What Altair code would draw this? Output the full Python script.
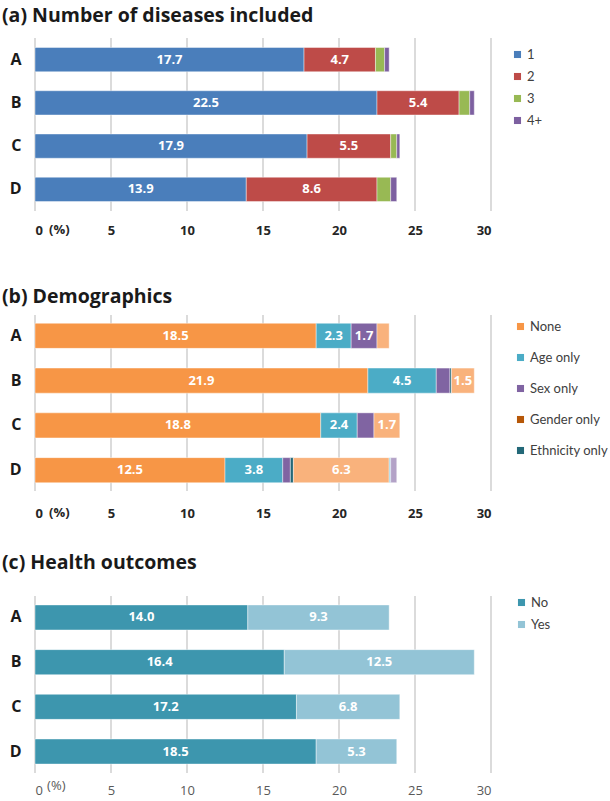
import altair as alt
import pandas as pd

groups = ["A", "B", "C", "D"]

# (a) Number of diseases included
a_cats = ["1", "2", "3", "4+"]
a_1 = [17.7, 22.5, 17.9, 13.9]
a_2 = [4.7, 5.4, 5.5, 8.6]
a_3 = [0.6, 0.7, 0.4, 0.9]
a_4 = [0.3, 0.3, 0.2, 0.4]
a_colors = ["#4A7EBB", "#BE4B48", "#98B954", "#7D60A0"]

# (b) Demographics (last three series are not shown in the cropped legend)
b_cats = ["None", "Age only", "Sex only", "Gender only", "Ethnicity only",
          "Two or more", "Unclear", "Other"]
b_none = [18.5, 21.9, 18.8, 12.5]
b_age = [2.3, 4.5, 2.4, 3.8]
b_sex = [1.7, 0.9, 1.1, 0.5]
b_gender = [0.0, 0.0, 0.0, 0.0]
b_eth = [0.0, 0.1, 0.0, 0.2]
b_two = [0.8, 1.5, 1.7, 6.3]
b_unclear = [0.0, 0.0, 0.0, 0.1]
b_other = [0.0, 0.0, 0.0, 0.4]
b_colors = ["#F79646", "#4BACC6", "#8064A2", "#B65708", "#236878",
            "#F9B27C", "#93CDDD", "#B3A2C7"]
b_legend = ["None", "Age only", "Sex only", "Gender only", "Ethnicity only"]

# (c) Health outcomes
c_cats = ["No", "Yes"]
c_no = [14.0, 16.4, 17.2, 18.5]
c_yes = [9.3, 12.5, 6.8, 5.3]
c_colors = ["#3D96AE", "#93C4D6"]

x_ticks = [0, 5, 10, 15, 20, 25, 30]

TITLE_FONT = "Open Sans"
FONT = "Open Sans"
LEG_FONT = "Lato"


def build_df(cats, series):
    rows = []
    for gi, g in enumerate(groups):
        start = 0.0
        for ci, c in enumerate(cats):
            v = series[ci][gi]
            rows.append(dict(group=g, cat=c, order=ci, value=v, start=start,
                             end=start + v, mid=start + v / 2,
                             label=(f"{v:.1f}" if v >= 1.5 else "")))
            start += v
    return pd.DataFrame(rows)


def panel(df, cats, colors, title, height, title_offset, legend_vals,
          leg_x, leg_y, leg_font, leg_rowpad, pad_outer, axis_bold=True,
          label_pad=13, pct_x=1.6, pct_dy=19):
    ycommon = dict(sort=groups,
                   scale=alt.Scale(paddingInner=0.44, paddingOuter=pad_outer))
    xaxis = alt.Axis(values=x_ticks, grid=False, domain=False, ticks=False,
                     labelFont=FONT, labelFontSize=13,
                     labelFontWeight="bold" if axis_bold else "normal",
                     labelColor="#262626" if axis_bold else "#595959",
                     labelPadding=label_pad, title=None)
    yaxis = alt.Axis(domain=False, ticks=False, grid=False, labelFont=FONT,
                     labelFontSize=16, labelFontWeight="bold",
                     labelColor="#1A1A1A", labelPadding=14, title=None,
                     minExtent=27, maxExtent=27)
    xscale = alt.Scale(domain=[0, 30], nice=False)
    grid = alt.Chart(pd.DataFrame({"t": x_ticks})).mark_rule(
        color="#CFCFCF", strokeWidth=1.5
    ).encode(x=alt.X("t:Q", scale=xscale, axis=None))
    bars = alt.Chart(df[df.value > 0]).mark_bar(
        stroke="white", strokeWidth=0.6, strokeOpacity=0.7
    ).encode(
        x=alt.X("start:Q", scale=xscale, axis=xaxis),
        x2="end:Q",
        y=alt.Y("group:N", axis=yaxis, **ycommon),
        color=alt.Color("cat:N", scale=alt.Scale(domain=cats, range=colors),
                        legend=alt.Legend(
                            orient="none", legendX=leg_x, legendY=leg_y,
                            values=legend_vals, title=None,
                            symbolType="square", symbolSize=50,
                            symbolStrokeWidth=0, labelFont=LEG_FONT,
                            labelFontSize=leg_font, labelColor="#404040",
                            rowPadding=leg_rowpad, labelOffset=3,
                            padding=0, labelLimit=95)),
        tooltip=["group:N", "cat:N", "value:Q"],
    )
    text = alt.Chart(df[df.label != ""]).mark_text(
        color="white", fontWeight="bold", fontSize=13, font=FONT
    ).encode(
        x=alt.X("mid:Q", scale=xscale, axis=None),
        y=alt.Y("group:N", axis=None, **ycommon),
        text="label:N",
    )
    pct = alt.Chart(pd.DataFrame({"x": [pct_x], "t": ["(%)"]})).mark_text(
        fontSize=13, font=FONT,
        fontWeight="bold" if axis_bold else "normal",
        color="#262626" if axis_bold else "#595959"
    ).encode(
        x=alt.X("x:Q", scale=xscale, axis=None),
        y=alt.value(height + pct_dy),
        text="t:N",
    )
    return alt.layer(grid, bars, text, pct).resolve_axis(
        x="independent", y="independent"
    ).properties(
        width=456, height=height,
        title=alt.TitleParams(title, anchor="start", frame="group", dx=-33,
                              font=TITLE_FONT, fontSize=19.5,
                              fontWeight="bold", color="#1A1A1A",
                              offset=title_offset),
    )


df_a = build_df(a_cats, [a_1, a_2, a_3, a_4])
df_b = build_df(b_cats, [b_none, b_age, b_sex, b_gender, b_eth, b_two,
                         b_unclear, b_other])
df_c = build_df(c_cats, [c_no, c_yes])

pa = panel(df_a, a_cats, a_colors, "(a) Number of diseases included", 173, 11,
           a_cats, 476, 10, 13, 8, 0.22)
pb = panel(df_b, b_cats, b_colors, "(b) Demographics", 176, 7,
           b_legend, 479, 5, 13, 17, 0.185, label_pad=16, pct_dy=22)
pc = panel(df_c, c_cats, c_colors, "(c) Health outcomes", 177, 22,
           c_cats, 480, 0, 13, 8, 0.2, axis_bold=False, label_pad=11,
           pct_x=1.4, pct_dy=13)

top = alt.vconcat(pa, pb, spacing=49).resolve_scale(color="independent")
chart = alt.vconcat(top, pc, spacing=32).resolve_scale(
    color="independent"
).properties(
    padding={"left": 2, "top": 5, "right": 0, "bottom": 0},
    background="white",
).configure_view(strokeWidth=0)

chart.save("out.html", embed_options={"renderer": "svg", "actions": False})
